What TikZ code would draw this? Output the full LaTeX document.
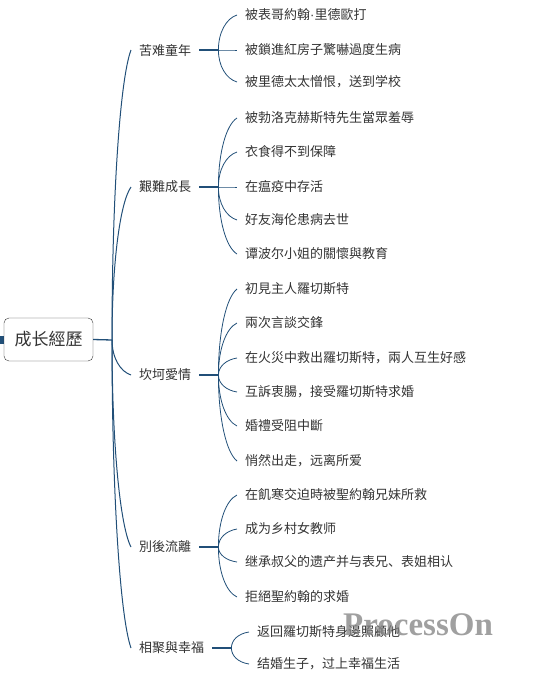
\documentclass[tikz,border=0pt]{standalone}
\usepackage{fontspec}
\setmainfont{Liberation Serif}
\newfontfamily\cjk{Noto Sans CJK SC}
\newfontfamily\latin{Liberation Sans}
\usetikzlibrary{positioning, calc}

\definecolor{linkblue}{RGB}{33,79,120}
\definecolor{inkgray}{RGB}{51,51,51}

\tikzset{
  curvy/.style={to path={.. controls
    ($(\tikztostart)!0.5!(\tikztostart |- \tikztotarget)$) and
    ($([xshift=-10pt]\tikztotarget)!0.1!(\tikztostart)$) .. (\tikztotarget)}}
}

\begin{document}
\begin{tikzpicture}[
  x=1pt, y=-1pt,
  rootbox/.style={draw=inkgray, rounded corners=5pt, minimum width=89pt,
    minimum height=43pt, font=\cjk\fontsize{17}{20}\selectfont, text=inkgray},
  topic/.style={anchor=west, inner xsep=8pt, inner ysep=2pt,
    font=\cjk\fontsize{13}{15}\selectfont, text=inkgray},
  leaf/.style={topic},
  trunk/.style={draw=linkblue, line width=1.3pt},
  limb/.style={draw=linkblue, line width=1pt, curvy},
  twig/.style={draw=linkblue, line width=0.8pt, curvy}
]
  \useasboundingbox (0,0) rectangle (533,683);

  % root
  \fill[linkblue] (0,336) rectangle (3.5,344);
  \node[rootbox] (root) at (48.5,339.5) {成长經歷};
  \coordinate (j0) at (112,340);

  % topics
  \node[topic] (b1) at (131,50) {苦难童年};
  \node[topic] (b2) at (131,187) {艱難成長};
  \node[topic] (b3) at (131,375) {坎坷愛情};
  \node[topic] (b4) at (131,547) {別後流離};
  \node[topic] (b5) at (131,648) {相聚與幸福};

  \coordinate (j1) at ([xshift=19pt]b1.east);
  \coordinate (j2) at ([xshift=19pt]b2.east);
  \coordinate (j3) at ([xshift=19pt]b3.east);
  \coordinate (j4) at ([xshift=19pt]b4.east);
  \coordinate (j5) at ([xshift=19pt]b5.east);

  % leaves
  \node[leaf] (b1a) at (237,15) {被表哥約翰{\latin ·}里德歐打};
  \node[leaf] (b1b) at (237,50) {被鎖進紅房子驚嚇過度生病};
  \node[leaf] (b1c) at (237,82) {被里德太太憎恨，送到学校};

  \node[leaf] (b2a) at (237,118) {被勃洛克赫斯特先生當眾羞辱};
  \node[leaf] (b2b) at (237,152) {衣食得不到保障};
  \node[leaf] (b2c) at (237,187) {在瘟疫中存活};
  \node[leaf] (b2d) at (237,220) {好友海伦患病去世};
  \node[leaf] (b2e) at (237,254) {谭波尔小姐的關懷與教育};

  \node[leaf] (b3a) at (237,289) {初見主人羅切斯特};
  \node[leaf] (b3b) at (237,323) {兩次言談交鋒};
  \node[leaf] (b3c) at (237,358) {在火災中救出羅切斯特，兩人互生好感};
  \node[leaf] (b3d) at (237,392) {互訴衷腸，接受羅切斯特求婚};
  \node[leaf] (b3e) at (237,426) {婚禮受阻中斷};
  \node[leaf] (b3f) at (237,461) {悄然出走，远离所爱};

  \node[leaf] (b4a) at (237,495) {在飢寒交迫時被聖約翰兄妹所救};
  \node[leaf] (b4b) at (237,529) {成为乡村女教师};
  \node[leaf] (b4c) at (237,562) {继承叔父的遗产并与表兄、表姐相认};
  \node[leaf] (b4d) at (237,597) {拒絕聖約翰的求婚};

  \node[leaf] (b5a) at (249,632) {返回羅切斯特身邊照顧他};
  \node[leaf] (b5b) at (249,664) {结婚生子，过上幸福生活};

  % connectors
  \draw[trunk] (root.east) -- (j0);
  \draw[limb] (j0) to (b1.west);
  \draw[limb] (j0) to (b2.west);
  \draw[limb] (j0) to (b3.west);
  \draw[limb] (j0) to (b4.west);
  \draw[limb] (j0) to (b5.west);

  \draw[trunk] (b1.east) -- (j1);
  \draw[twig] (j1) to (b1a.west);
  \draw[twig] (j1) to (b1b.west);
  \draw[twig] (j1) to (b1c.west);

  \draw[trunk] (b2.east) -- (j2);
  \draw[twig] (j2) to (b2a.west);
  \draw[twig] (j2) to (b2b.west);
  \draw[twig] (j2) to (b2c.west);
  \draw[twig] (j2) to (b2d.west);
  \draw[twig] (j2) to (b2e.west);

  \draw[trunk] (b3.east) -- (j3);
  \draw[twig] (j3) to (b3a.west);
  \draw[twig] (j3) to (b3b.west);
  \draw[twig] (j3) to (b3c.west);
  \draw[twig] (j3) to (b3d.west);
  \draw[twig] (j3) to (b3e.west);
  \draw[twig] (j3) to (b3f.west);

  \draw[trunk] (b4.east) -- (j4);
  \draw[twig] (j4) to (b4a.west);
  \draw[twig] (j4) to (b4b.west);
  \draw[twig] (j4) to (b4c.west);
  \draw[twig] (j4) to (b4d.west);

  \draw[trunk] (b5.east) -- (j5);
  \draw[twig] (j5) to (b5a.west);
  \draw[twig] (j5) to (b5b.west);

  % watermark
  \node[anchor=base west, inner sep=0pt, text=gray, opacity=0.75,
    font=\bfseries\fontsize{33}{36}\selectfont] (mark) at (343,635) {ProcessOn};
\end{tikzpicture}
\end{document}
